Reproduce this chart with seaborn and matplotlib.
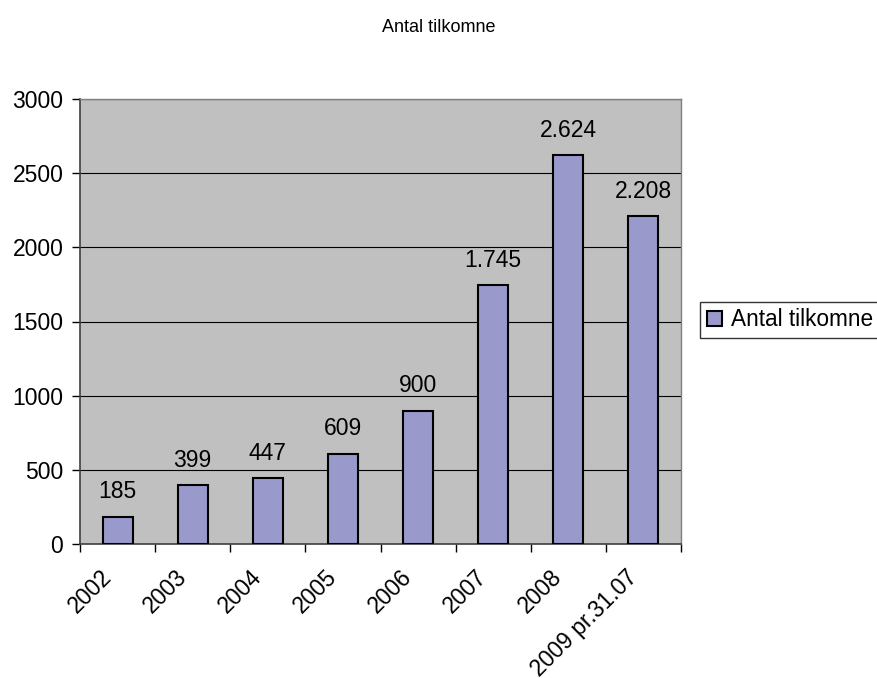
import numpy as np
import matplotlib
matplotlib.use("Agg")
import matplotlib.pyplot as plt
import matplotlib.transforms as mtransforms
import seaborn as sns

categories = ["2002", "2003", "2004", "2005", "2006", "2007", "2008", "2009 pr.31.07"]
values = [185, 399, 447, 609, 900, 1745, 2624, 2208]
value_labels = ["185", "399", "447", "609", "900", "1.745", "2.624", "2.208"]
y_ticks = [0, 500, 1000, 1500, 2000, 2500, 3000]
series_name = "Antal tilkomne"

plt.rcParams["font.family"] = ["Liberation Sans", "DejaVu Sans"]

fig = plt.figure(figsize=(8.77, 6.78), dpi=100)
ax = fig.add_axes([80 / 877, 1 - 544 / 678, 601 / 877, 445 / 678])

sns.barplot(x=categories, y=values, color="#9999CC", width=0.4,
            edgecolor="black", linewidth=1.5, saturation=1, ax=ax, zorder=3)

ax.set_facecolor("#C0C0C0")
ax.set_xlim(-0.5, len(categories) - 0.5)
ax.set_ylim(0, 3000)
ax.set_yticks(y_ticks)
ax.set_yticklabels([str(t) for t in y_ticks], fontsize=16.5)
ax.yaxis.grid(True, color="black", linewidth=0.8, zorder=0)
ax.set_axisbelow(True)
ax.set_xlabel("")
ax.set_ylabel("")

# ticks at category boundaries, labels at centres
ax.set_xticks(np.arange(-0.5, len(categories)), minor=True)
ax.tick_params(axis="x", which="minor", length=6, width=1, direction="out", color="black")
ax.tick_params(axis="x", which="major", length=0, pad=12)
ax.tick_params(axis="y", length=6, width=1, direction="out", color="black", pad=6)
ax.set_xticks(range(len(categories)))
ax.set_xticklabels(categories, rotation=45, ha="right", rotation_mode="anchor", fontsize=16.5)
shift = mtransforms.ScaledTranslation(-18 / 100, -5 / 100, fig.dpi_scale_trans)
for lab in ax.get_xticklabels():
    lab.set_transform(lab.get_transform() + shift)

for s in ["top", "right"]:
    ax.spines[s].set_color("#808080")
    ax.spines[s].set_linewidth(1)
ax.spines["left"].set_color("#404040")
ax.spines["left"].set_linewidth(1.2)
ax.spines["bottom"].set_color("#404040")
ax.spines["bottom"].set_linewidth(1.2)

for i, (v, lab) in enumerate(zip(values, value_labels)):
    ax.annotate(lab, (i, v), xytext=(0, 9.5), textcoords="offset points",
                ha="center", va="bottom", fontsize=16.5)

fig.text(0.5, 1 - 28 / 678, "Antal tilkomne", ha="center", va="center", fontsize=13)

leg = fig.legend(handles=[ax.patches[0]], labels=[series_name], loc="center left",
                 bbox_to_anchor=(700 / 877, 1 - 320 / 678), fontsize=16.3,
                 frameon=True, fancybox=False, handlelength=0.65, handleheight=0.65,
                 handletextpad=0.4, borderpad=0.3, borderaxespad=0)
leg.get_frame().set_edgecolor("black")
leg.get_frame().set_linewidth(1)

fig.savefig("out.png", dpi=100)
